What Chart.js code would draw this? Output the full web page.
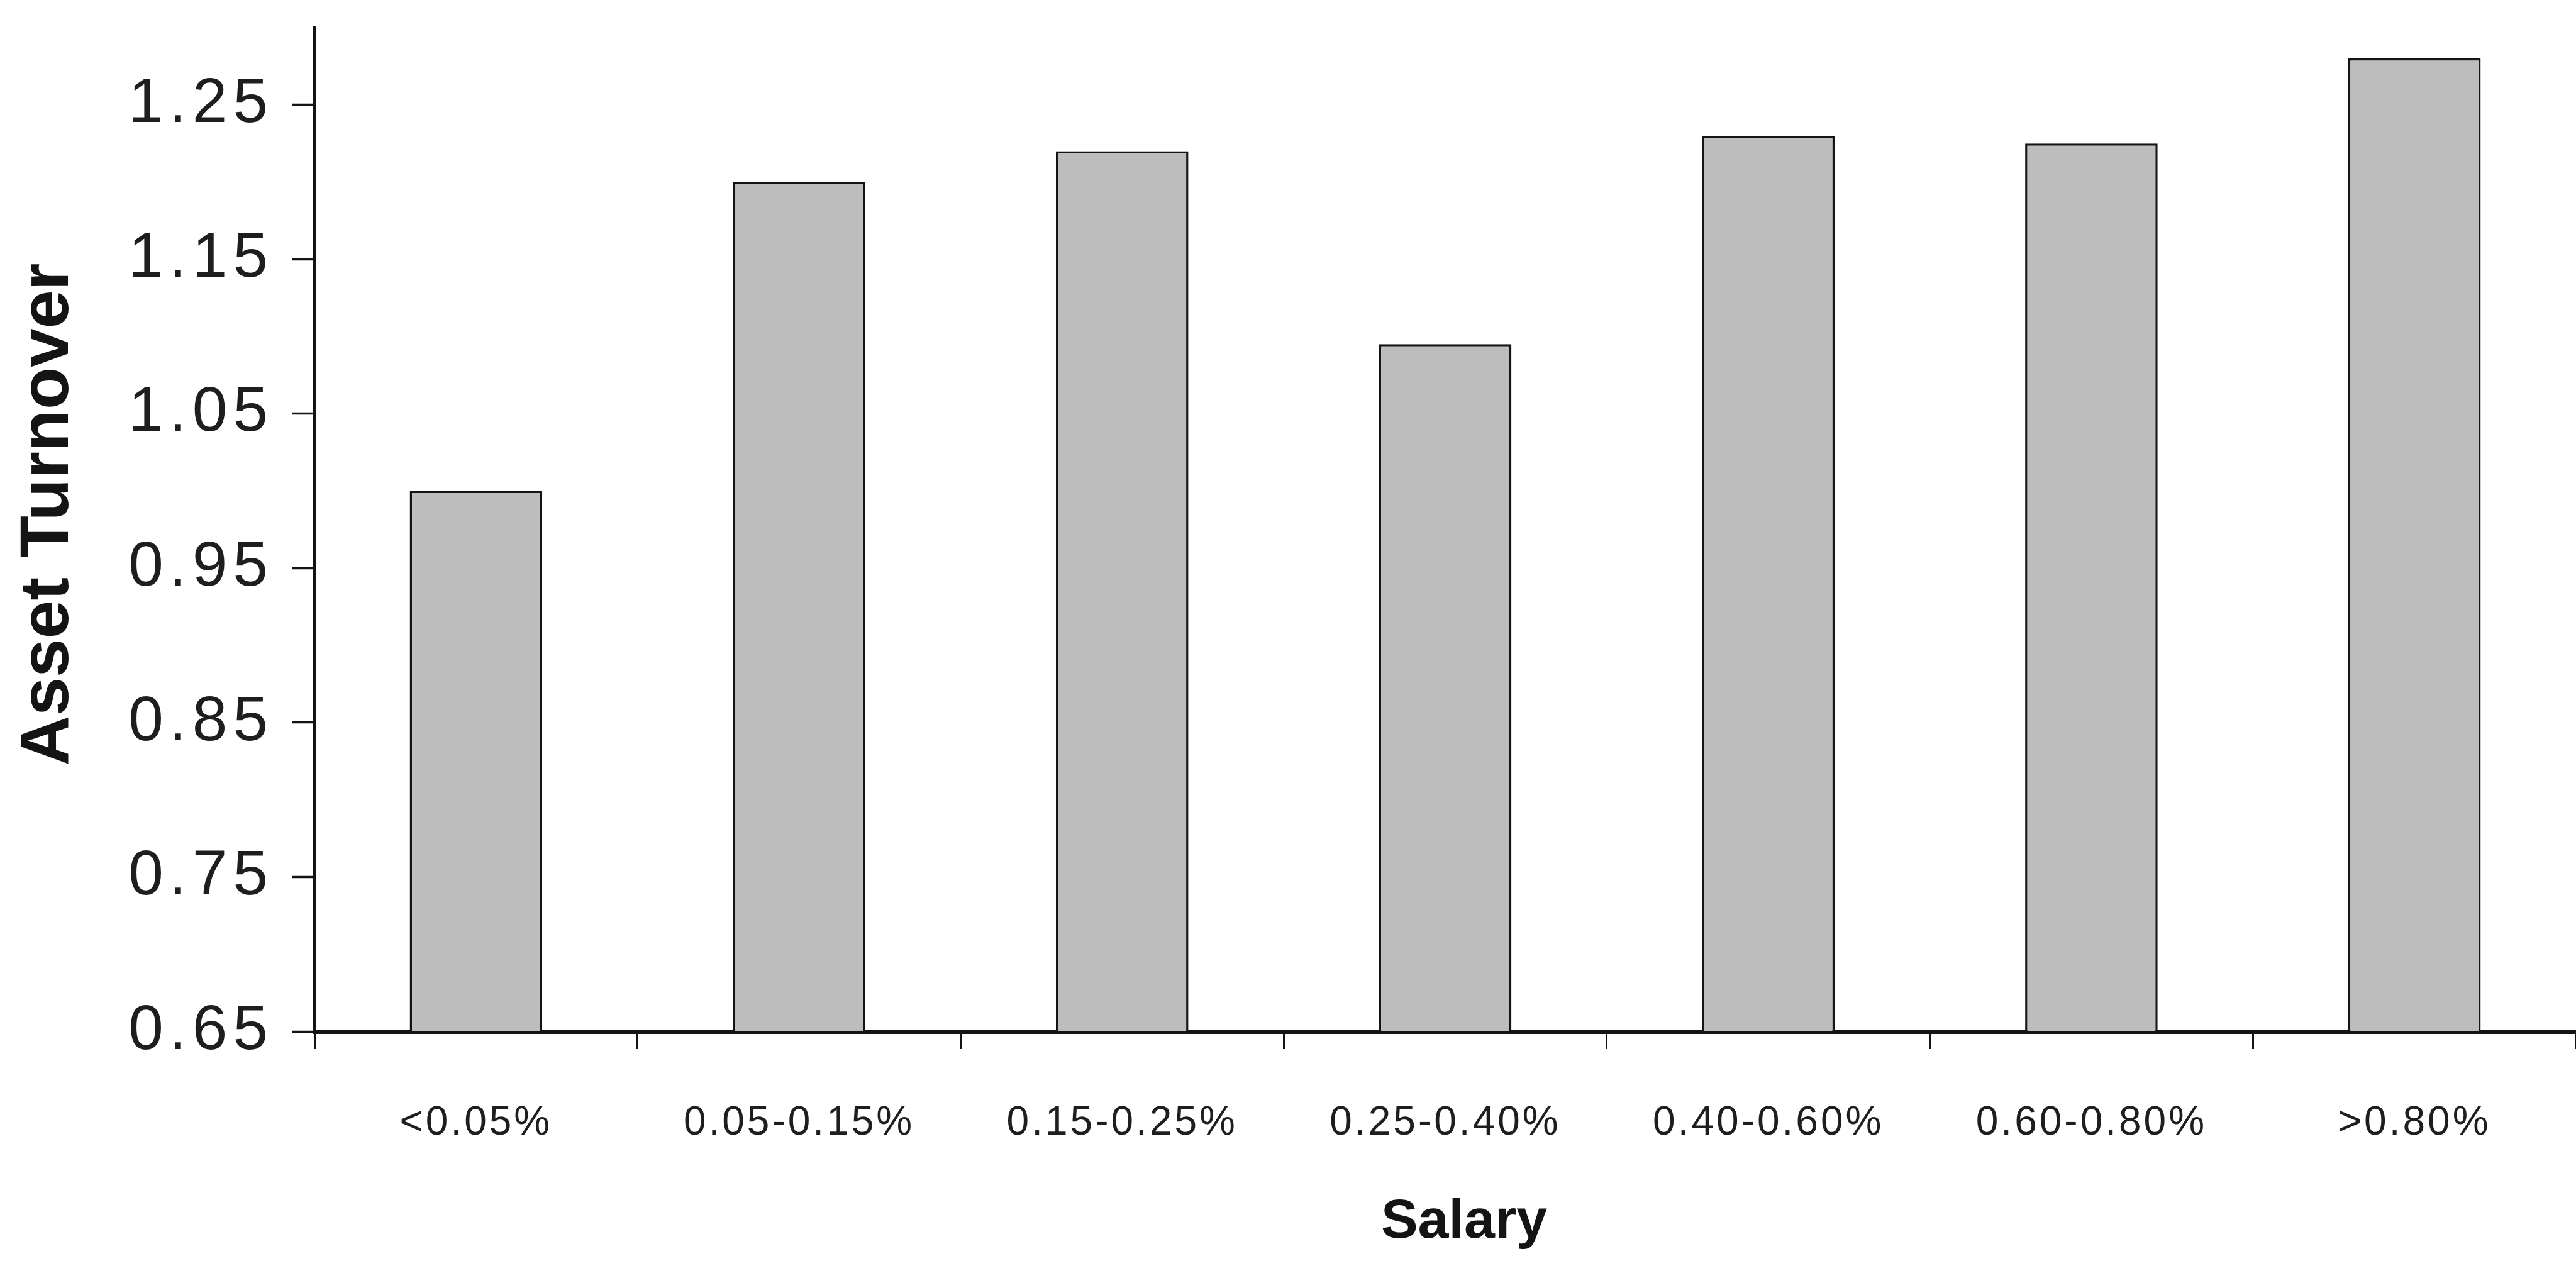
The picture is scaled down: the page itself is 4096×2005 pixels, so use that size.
<!DOCTYPE html>
<html>
<head>
<meta charset="utf-8">
<script src="https://cdn.jsdelivr.net/npm/chart.js@4/dist/chart.umd.min.js"></script>
<style>
  html, body { margin: 0; padding: 0; background: #ffffff; }
  #wrap { width: 4096px; height: 2005px; position: relative; }
</style>
</head>
<body>
<div id="wrap"><canvas id="c"></canvas></div>
<script>
const categories = ['<0.05%', '0.05-0.15%', '0.15-0.25%', '0.25-0.40%', '0.40-0.60%', '0.60-0.80%', '>0.80%'];
const assetTurnover = [1.00, 1.20, 1.22, 1.095, 1.23, 1.225, 1.28];
const yTickValues = [0.65, 0.75, 0.85, 0.95, 1.05, 1.15, 1.25];
const yTitle = 'Asset Turnover';
const xTitle = 'Salary';

function spaced(Base, id, spacing, titleDx, titleDy) {
  class S extends Base {
    drawLabels(area) {
      const ctx = this.ctx;
      const prev = ctx.letterSpacing;
      ctx.letterSpacing = spacing;
      super.drawLabels(area);
      ctx.letterSpacing = prev || '0px';
    }
    drawTitle() {
      const ctx = this.ctx;
      ctx.save();
      ctx.translate(titleDx, titleDy);
      super.drawTitle();
      ctx.restore();
    }
  }
  S.id = id;
  S.defaults = Base.defaults;
  return S;
}
Chart.register(spaced(Chart.LinearScale, 'spacedLinear', '9px', 0, -24));
Chart.register(spaced(Chart.CategoryScale, 'spacedCategory', '4px', 30, 0));

const ink = '#141414';

new Chart(document.getElementById('c'), {
  type: 'bar',
  data: {
    labels: categories,
    datasets: [{
      data: assetTurnover,
      backgroundColor: '#bdbdbd',
      borderColor: ink,
      borderWidth: 3.5,
      barPercentage: 0.41,
      categoryPercentage: 1.0
    }]
  },
  options: {
    responsive: true,
    maintainAspectRatio: false,
    animation: false,
    layout: { padding: { top: 44, right: 0, bottom: 0, left: 0 } },
    plugins: { legend: { display: false }, tooltip: { enabled: false }, title: { display: false } },
    scales: {
      x: {
        type: 'spacedCategory',
        grid: { drawOnChartArea: false, offset: true, drawTicks: true, tickLength: 28, tickWidth: 3, tickColor: ink },
        border: { display: true, color: ink, width: 7 },
        ticks: {
          autoSkip: false, maxRotation: 0, minRotation: 0,
          padding: 80,
          color: '#1e1e1e',
          font: { family: 'Liberation Sans', size: 64 }
        },
        title: {
          display: true, text: xTitle, color: ink,
          font: { family: 'Liberation Sans', weight: 'bold', size: 88 },
          padding: { top: 0, bottom: 8 }
        },
        afterFit: s => { s.height = 365; s.paddingLeft = 0; s.paddingRight = 0; }
      },
      y: {
        type: 'spacedLinear',
        min: 0.65,
        max: 1.30,
        afterBuildTicks: s => { s.ticks = yTickValues.map(v => ({ value: v })); },
        grid: { drawOnChartArea: false, drawTicks: true, tickLength: 35, tickWidth: 3.5, tickColor: ink },
        border: { display: true, color: ink, width: 4.5 },
        ticks: {
          padding: 30,
          color: '#1e1e1e',
          font: { family: 'Liberation Sans', size: 100 },
          callback: v => Number(v).toFixed(2)
        },
        title: {
          display: true, text: yTitle, color: ink,
          font: { family: 'Liberation Sans', weight: 'bold', size: 110 },
          padding: { top: 12, bottom: 0 }
        },
        afterFit: s => { s.width = 500; s.paddingTop = 0; s.paddingBottom = 0; }
      }
    }
  }
});
</script>
</body>
</html>
